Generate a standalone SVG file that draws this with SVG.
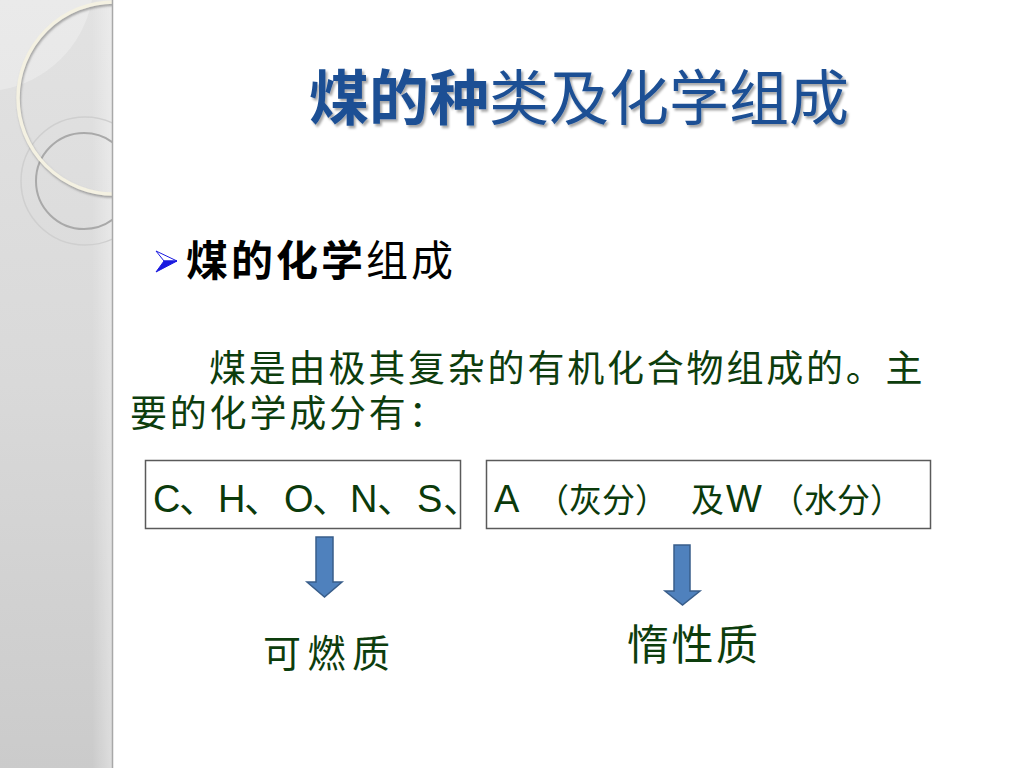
<svg xmlns="http://www.w3.org/2000/svg" width="1024" height="768" viewBox="0 0 1024 768">
  <defs>
    <linearGradient id="panelGrad" x1="0" y1="0" x2="0" y2="1">
      <stop offset="0" stop-color="#e2e2e2"/>
      <stop offset="0.5" stop-color="#d9d9d9"/>
      <stop offset="1" stop-color="#cbcbcb"/>
    </linearGradient>
    <linearGradient id="edgeGrad" x1="0" y1="0" x2="1" y2="0">
      <stop offset="0" stop-color="#ffffff" stop-opacity="0"/>
      <stop offset="1" stop-color="#ffffff" stop-opacity="0.35"/>
    </linearGradient>
    <clipPath id="panelClip">
      <rect x="0" y="0" width="112" height="768"/>
    </clipPath>
    <filter id="titleShadow" x="-5%" y="-20%" width="110%" height="150%">
      <feDropShadow dx="2" dy="2.5" stdDeviation="1.2" flood-color="#000000" flood-opacity="0.35"/>
    </filter>
    <filter id="ringShadow" x="-20%" y="-20%" width="140%" height="140%">
      <feDropShadow dx="1" dy="2" stdDeviation="1" flood-color="#707070" flood-opacity="0.6"/>
    </filter>
    <style>
      .title { font-family: "Noto Sans CJK SC", "Liberation Sans", sans-serif; font-size: 60px; fill: #1d4f94; }
      .head { font-family: "Noto Sans CJK SC", "Liberation Sans", sans-serif; font-size: 42px; fill: #000000; letter-spacing: 3px; }
      .body { font-family: "Noto Sans CJK SC", sans-serif; font-size: 37px; fill: #0d3d0d; letter-spacing: 2.8px; }
      .box { fill: #ffffff; stroke: #5a5a5a; stroke-width: 1.5; }
      .latin { font-family: "Liberation Sans", "Noto Sans CJK SC", sans-serif; font-size: 38px; fill: #0b3a0b; }
      .cjk { font-family: "Noto Sans CJK SC", sans-serif; font-size: 33px; fill: #0b3a0b; }
      .label { font-family: "Noto Sans CJK SC", sans-serif; fill: #0d3d0d; }
      .arrow { fill: #4f81bd; stroke: #385d8a; stroke-width: 1.5; stroke-linejoin: miter; }
    </style>
  </defs>

  <rect x="0" y="0" width="1024" height="768" fill="#ffffff"/>

  <!-- decorative left panel -->
  <g id="side-panel">
    <rect x="0" y="0" width="112" height="768" fill="url(#panelGrad)"/>
    <rect x="92" y="0" width="20" height="768" fill="url(#edgeGrad)"/>
    <g clip-path="url(#panelClip)">
      <path d="M0,0 L92,0 A112,112 0 0 1 0,90 Z" fill="#ffffff" fill-opacity="0.28"/>
      <circle cx="85" cy="181" r="64" fill="none" stroke="#cfcfcf" stroke-width="1.5"/>
      <circle cx="84" cy="181" r="48" fill="none" stroke="#a9a9a9" stroke-width="2"/>
      <circle cx="114" cy="98" r="96" fill="none" stroke="#f4f1e2" stroke-width="3.5" filter="url(#ringShadow)"/>
    </g>
    <line x1="112.5" y1="0" x2="112.5" y2="768" stroke="#a8a8a8" stroke-width="1.5"/>
  </g>

  <!-- title -->
  <g id="title" filter="url(#titleShadow)">
    <text class="title" x="309" y="120"><tspan font-weight="bold">煤的种</tspan><tspan font-weight="normal">类及化学组成</tspan></text>
  </g>

  <!-- bullet heading -->
  <g id="heading">
    <polygon points="156,251 177,261 164,261" fill="#ffffff" stroke="#1a1ae0" stroke-width="1"/>
    <polygon points="164,261 177,261 156,272" fill="#1a1ae0" stroke="#1a1ae0" stroke-width="1"/>
    <text class="head" x="186" y="276"><tspan font-weight="bold">煤的化学</tspan><tspan font-weight="normal">组成</tspan></text>
  </g>

  <!-- body paragraph -->
  <g id="paragraph">
    <text class="body" x="209" y="382">煤是由极其复杂的有机化合物组成的。主</text>
    <text class="body" x="130" y="427">要的化学成分有：</text>
  </g>

  <!-- box 1 -->
  <g id="box-combustible-elements">
    <rect class="box" x="145.5" y="460.5" width="315" height="68"/>
    <text class="latin" y="512"><tspan x="153">C</tspan><tspan x="179">、</tspan><tspan x="218">H</tspan><tspan x="244">、</tspan><tspan x="284">O</tspan><tspan x="312">、</tspan><tspan x="350">N</tspan><tspan x="377">、</tspan><tspan x="417">S</tspan><tspan x="443">、</tspan></text>
  </g>

  <!-- box 2 -->
  <g id="box-inert-components">
    <rect class="box" x="486.5" y="460.5" width="444" height="68"/>
    <text y="512"><tspan class="latin" x="494">A</tspan><tspan class="cjk" x="536">（灰分）</tspan><tspan class="cjk" x="691">及</tspan><tspan class="latin" x="726">W</tspan><tspan class="cjk" x="771">（水分）</tspan></text>
  </g>

  <!-- connectors -->
  <g id="connectors">
    <polygon class="arrow" points="316,537 333,537 333,582 342,582 324.5,597 307,582 316,582"/>
    <polygon class="arrow" points="674,545 690,545 690,591 700,591 682.5,605 665,591 674,591"/>
  </g>

  <!-- result labels -->
  <g id="label-combustible">
    <text class="label" x="263" y="667" font-size="38" letter-spacing="6.5">可燃质</text>
  </g>
  <g id="label-inert">
    <text class="label" x="627" y="660" font-size="42" letter-spacing="2.5">惰性质</text>
  </g>
</svg>
